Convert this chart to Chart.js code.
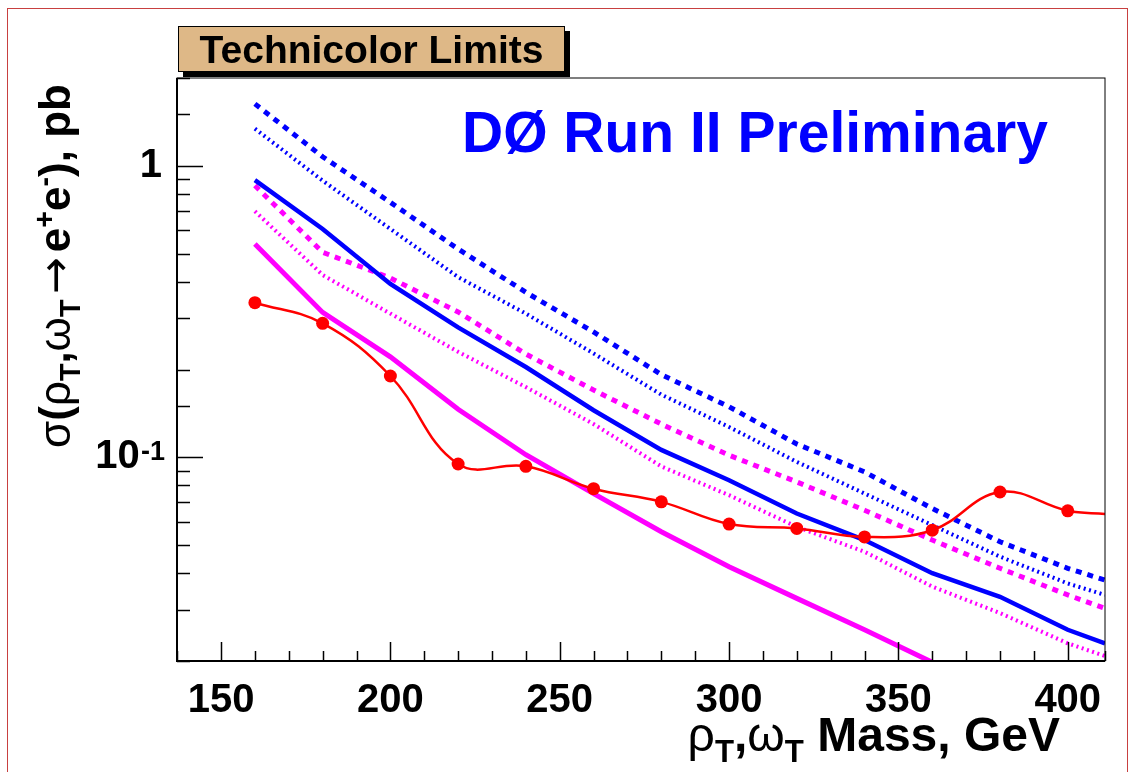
<!DOCTYPE html>
<html>
<head>
<meta charset="utf-8">
<script src="https://cdn.jsdelivr.net/npm/chart.js@4.4.1/dist/chart.umd.min.js"></script>
<style>
  body { margin: 0; background: #fff; }
  #wrap { position: relative; width: 1132px; height: 772px; overflow: hidden; font-family: "Liberation Sans", Arial, sans-serif; }
  #border { position: absolute; left: 7px; top: 8px; width: 1119px; height: 800px; border: 1px solid #c84040; }
  #titlebox { position: absolute; left: 178px; top: 26px; width: 385px; height: 44px; background: #deb887;
    border: 1px solid #000; box-shadow: 5px 5px 0 #000; font-weight: bold; font-size: 39px;
    display: flex; align-items: center; justify-content: center; line-height: 1; }
  #d0 { position: absolute; left: 462px; top: 104px; color: #0000ff; font-weight: bold; font-size: 57px; line-height: 1; white-space: nowrap; }
  .t { position: absolute; font-weight: bold; line-height: 1; white-space: nowrap; color: #000; }
  .t .g { font-weight: normal; }
  .t .arr { font-family: "DejaVu Sans"; font-weight: normal; margin: 0 0.12em; }
  .t sub { font-size: 0.65em; vertical-align: -0.35em; line-height: 0; }
  .t sup { font-size: 0.65em; vertical-align: 0.55em; line-height: 0; }
  #xtitle { right: 72px; top: 711px; font-size: 48px; }
  #ytitle { left: 55px; top: 266px; font-size: 44px; transform: translate(-50%, -50%) rotate(-90deg); }
</style>
</head>
<body>
<div id="wrap">
  <canvas id="myChart" width="1132" height="772"></canvas>
  <div id="border"></div>
  <div id="titlebox">Technicolor Limits</div>
  <div id="d0">DØ Run II Preliminary</div>
  <div class="t" id="xtitle"><span class="g">ρ</span><sub>T</sub>,<span class="g">ω</span><sub>T</sub> Mass, GeV</div>
  <div class="t" id="ytitle"><span class="g">σ</span>(<span class="g">ρ</span><sub>T</sub>,<span class="g">ω</span><sub>T</sub><span class="arr">→</span>e<sup>+</sup>e<sup>-</sup>), pb</div>
</div>
<script>
// masses in GeV, last one is the right edge of the frame
const masses = [160, 180, 200, 220, 240, 260, 280, 300, 320, 340, 360, 380, 400, 411];

// observed limit (red, with markers)
const observed = [0.339, 0.288, 0.190, 0.0948, 0.0931, 0.078, 0.0703, 0.059, 0.057, 0.0533, 0.0562, 0.076, 0.0655, 0.0639];

// blue curves
const blueDashed = [1.63, 1.074, 0.749, 0.518, 0.368, 0.269, 0.192, 0.149, 0.111, 0.0891, 0.0667, 0.0513, 0.0416, 0.0379];
const blueDotted = [1.34, 0.889, 0.607, 0.415, 0.311, 0.227, 0.164, 0.127, 0.0964, 0.0751, 0.0585, 0.0456, 0.0369, 0.0337];
const blueSolid = [0.893, 0.607, 0.393, 0.279, 0.204, 0.145, 0.106, 0.0834, 0.0641, 0.052, 0.040, 0.0332, 0.0256, 0.023];

// magenta curves
const magDashed = [0.855, 0.505, 0.412, 0.315, 0.226, 0.170, 0.130, 0.1016, 0.0823, 0.0658, 0.052, 0.0416, 0.0337, 0.0303];
const magDotted = [0.698, 0.422, 0.311, 0.230, 0.174, 0.130, 0.093, 0.0741, 0.0577, 0.0474, 0.036, 0.0292, 0.023, 0.0208];
const magSolid = [0.539, 0.314, 0.221, 0.146, 0.102, 0.075, 0.0555, 0.0421, 0.0328, 0.0256, 0.0198, null, null, null];

const xTicksMajor = [150, 200, 250, 300, 350, 400];

const toPoints = (vals) => masses.map((m, i) => ({ x: m, y: vals[i] }));

const line = (label, vals, color, width, dash) => ({
  label: label,
  data: toPoints(vals),
  borderColor: color,
  borderWidth: width,
  borderDash: dash,
  pointRadius: 0,
  tension: 0,
  fill: false,
});

const isDecade = (v) => {
  const lg = Math.log10(v);
  return Math.abs(lg - Math.round(lg)) < 1e-6;
};

// ticks drawn inside the frame, ROOT style, plus the "-1" exponent
const frameTicks = {
  id: "frameTicks",
  afterDatasetsDraw(chart) {
    const ctx = chart.ctx;
    const a = chart.chartArea;
    const x = chart.scales.x;
    const y = chart.scales.y;
    ctx.save();
    ctx.strokeStyle = "#000";
    ctx.lineWidth = 1;
    ctx.strokeRect(a.left, a.top, a.right - a.left, a.bottom - a.top);
    ctx.lineWidth = 2;
    ctx.beginPath();
    ctx.moveTo(a.left, a.top);
    ctx.lineTo(a.left, a.bottom);
    ctx.lineTo(a.right, a.bottom);
    ctx.stroke();
    ctx.lineWidth = 1.5;
    ctx.beginPath();
    x.ticks.forEach((t) => {
      const px = Math.round(x.getPixelForValue(t.value)) + 0.5;
      const len = xTicksMajor.includes(t.value) ? 19 : 10;
      ctx.moveTo(px, a.bottom);
      ctx.lineTo(px, a.bottom - len);
    });
    y.ticks.forEach((t) => {
      const py = Math.round(y.getPixelForValue(t.value)) + 0.5;
      const len = isDecade(t.value) ? 26 : 13;
      ctx.moveTo(a.left, py);
      ctx.lineTo(a.left + len, py);
    });
    ctx.stroke();
    // exponent of the 10^-1 label
    ctx.fillStyle = "#000";
    ctx.font = "bold 27px 'Liberation Sans'";
    ctx.textAlign = "right";
    ctx.textBaseline = "alphabetic";
    ctx.fillText("-1", a.left - 12, y.getPixelForValue(0.1) + 3);
    ctx.restore();
  },
};

const ctx = document.getElementById("myChart").getContext("2d");

const myChart = new Chart(ctx, {
  type: "line",
  data: {
    datasets: [
      {
        label: "observed",
        data: toPoints(observed),
        borderColor: "#ff0000",
        borderWidth: 2.5,
        pointRadius: masses.map((m) => (m > 400 ? 0 : 6.5)),
        pointBackgroundColor: "#ff0000",
        pointBorderWidth: 0,
        tension: 0.4,
        fill: false,
      },
      line("blue dashed", blueDashed, "#0000ff", 5, [6, 6]),
      line("blue dotted", blueDotted, "#0000ff", 4, [2, 3.5]),
      line("blue solid", blueSolid, "#0000ff", 4.5, []),
      line("magenta dashed", magDashed, "#ff00ff", 5, [6, 6]),
      line("magenta dotted", magDotted, "#ff00ff", 4, [2, 3.5]),
      line("magenta solid", magSolid, "#ff00ff", 5, []),
    ],
  },
  options: {
    responsive: false,
    animation: false,
    devicePixelRatio: 1,
    layout: { padding: { left: 0, top: 78, right: 27, bottom: 0 } },
    plugins: { legend: { display: false }, tooltip: { enabled: false } },
    scales: {
      x: {
        type: "linear",
        min: 137,
        max: 411,
        grid: { display: false },
        border: { display: false },
        afterFit: (scale) => { scale.height = 111; },
        ticks: {
          stepSize: 10,
          autoSkip: false,
          maxRotation: 0,
          padding: 8,
          color: "#000",
          font: { family: "Liberation Sans", weight: "bold", size: 40 },
          callback: (v) => (xTicksMajor.includes(v) ? String(v) : ""),
        },
      },
      y: {
        type: "logarithmic",
        min: 0.02,
        max: 2,
        grid: { display: false },
        border: { display: false },
        afterFit: (scale) => { scale.width = 177; },
        ticks: {
          autoSkip: false,
          padding: 7,
          color: "#000",
          font: { family: "Liberation Sans", weight: "bold", size: 40 },
          callback: (v) => {
            if (Math.abs(v - 1) < 1e-9) return "1";
            if (Math.abs(v - 0.1) < 1e-9) return "10  ";
            return "";
          },
        },
      },
    },
  },
  plugins: [frameTicks],
});
</script>
</body>
</html>
